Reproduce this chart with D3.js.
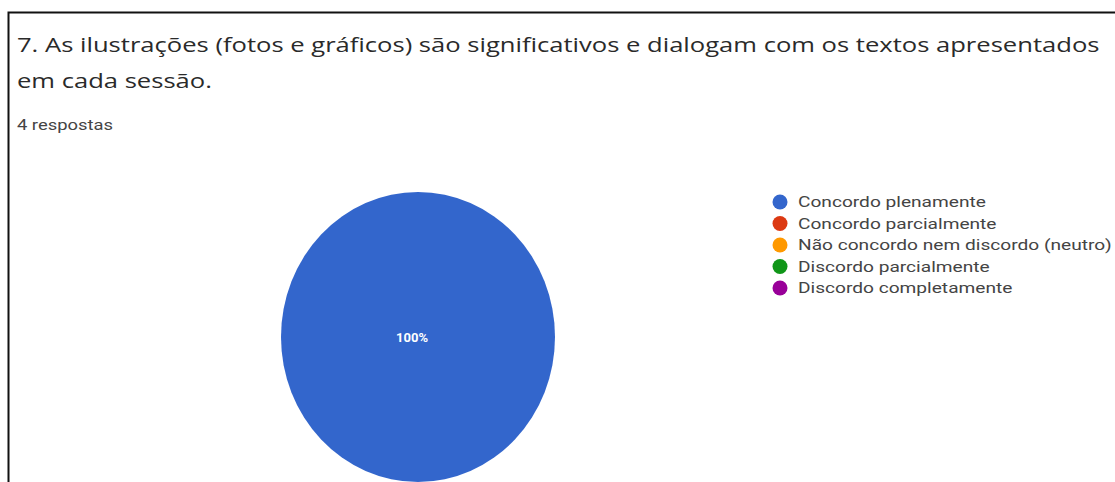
<!DOCTYPE html>
<html>
<head>
<meta charset="utf-8">
<script src="https://cdn.jsdelivr.net/npm/d3@7"></script>
<style>
  body { margin: 0; background: #fff; }
  svg { display: block; }
</style>
</head>
<body>
<div id="chart"></div>
<script>
// data
var titleLines = ["7. As ilustrações (fotos e gráficos) são significativos e dialogam com os textos apresentados",
                  "em cada sessão."];
var subtitle = "4 respostas";
var categories = ["Concordo plenamente", "Concordo parcialmente", "Não concordo nem discordo (neutro)",
                  "Discordo parcialmente", "Discordo completamente"];
var counts = [4, 0, 0, 0, 0];
var colors = ["#3366cc", "#dc3912", "#ff9900", "#109618", "#990099"];

var width = 1115, height = 482;

var svg = d3.select("#chart").append("svg")
    .attr("width", width)
    .attr("height", height);

// stretch a text node horizontally so it spans w pixels
function fitX(sel, x, w) {
  var k = w / sel.node().getComputedTextLength();
  return k;
}

// frame (left + top edge of the screenshot box)
svg.append("path")
    .attr("d", "M8.5," + height + " L8.5,12.5 L" + width + ",12.5")
    .attr("fill", "none")
    .attr("stroke", "#111")
    .attr("stroke-width", 2);

// title
var title = svg.append("g");
title.selectAll("text")
  .data(titleLines)
  .enter().append("text")
    .attr("x", 17)
    .attr("y", function (d, i) { return 52 + i * 36; })
    .attr("fill", "#2a2a2a")
    .style("font-family", "'Open Sans', Roboto, sans-serif")
    .style("font-size", "20px")
    .text(function (d) { return d; });

var kt = fitX(title.select("text"), 17, 1083);
title.selectAll("text").attr("transform", "translate(17,0) scale(" + kt + ",1) translate(-17,0)");

var sub = svg.append("text")
    .attr("x", 17)
    .attr("y", 130)
    .attr("fill", "#444")
    .style("font-family", "Roboto, sans-serif")
    .style("font-size", "14px")
    .text(subtitle);
var ks = fitX(sub, 17, 96);
sub.attr("transform", "translate(17,0) scale(" + ks + ",1) translate(-17,0)");

// pie
var cx = 418, cy = 337, rx = 137, ry = 145;
var pie = d3.pie().sort(null).value(function (d) { return d; });
var arc = d3.arc().innerRadius(0).outerRadius(rx);
var arcs = pie(counts);

var pieG = svg.append("g")
    .attr("transform", "translate(" + cx + "," + cy + ") scale(1," + (ry / rx) + ")");
pieG.selectAll("path")
  .data(arcs.filter(function (d) { return d.value > 0; }))
  .enter().append("path")
    .attr("d", arc)
    .attr("fill", function (d) { return colors[d.index]; });

var total = d3.sum(counts);
arcs.filter(function (d) { return d.value > 0; }).forEach(function (d) {
  var p = d.value === total ? [0, 0] : arc.centroid(d);
  svg.append("text")
    .attr("x", cx + p[0] - 6)
    .attr("y", cy + p[1] * ry / rx + 5)
    .attr("text-anchor", "middle")
    .attr("fill", "#fff")
    .style("font-family", "Roboto, sans-serif")
    .style("font-size", "13px")
    .style("font-weight", "bold")
    .text(Math.round(d.value / total * 100) + "%");
});

// legend
var legend = svg.append("g").attr("transform", "translate(780,202)");
var item = legend.selectAll("g")
  .data(categories)
  .enter().append("g")
    .attr("transform", function (d, i) { return "translate(0," + (i * 21.5) + ")"; });
item.append("circle")
    .attr("r", 7.5)
    .attr("fill", function (d, i) { return colors[i]; });
item.append("text")
    .attr("x", 18)
    .attr("y", 5)
    .attr("fill", "#444")
    .style("font-family", "Roboto, sans-serif")
    .style("font-size", "14px")
    .text(function (d) { return d; });

// fit the longest legend label to the screenshot width
var lk = fitX(item.filter(function (d, i) { return i === 2; }).select("text"), 18, 314);
item.selectAll("text").attr("transform", "translate(18,0) scale(" + lk + ",1) translate(-18,0)");
</script>
</body>
</html>
